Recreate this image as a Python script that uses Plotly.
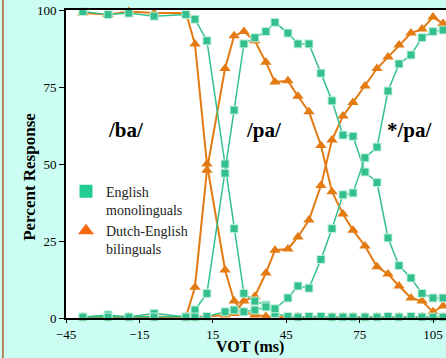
import plotly.graph_objects as go

vot = [-38.1, -27.8, -19.3, -9.0, 4.0, 7.7, 12.6, 20.0, 23.7, 27.7, 32.2, 36.7, 40.4, 45.7,
       49.8, 54.3, 59.2, 63.7, 68.2, 72.3, 77.2, 82.1, 86.6, 91.1, 96.0, 100.5, 105.0, 109.1]

eng_ba = [99.5, 98.5, 99, 98, 98.5, 97, 90, 50, 29, 8, 5.5, 4.2, 1.5, 0.5,
          0.3, 0.5, 0.5, 0.3, 0.3, 0.3, 0.3, 0.3, 0.5, 0.3, 0.5, 0.3, 0.3, 0.3]
eng_pa = [0.3, 1, 0.3, 1.5, 0.3, 2.6, 8, 47, 67.5, 89, 91, 93, 96, 92.5,
          89, 89, 79.5, 70.5, 59.4, 59, 47.4, 44, 26, 17, 13, 8, 6.5, 6.5]
eng_xpa = [0.3, 0.3, 0.3, 0.3, 0.3, 0.3, 0.5, 2, 2.6, 2, 2.6, 3.6, 3, 6.5,
           10.4, 9.7, 19, 29, 40, 40.6, 52, 55.5, 73.7, 82.5, 85.4, 91, 93, 93.5]

dut_ba = [99, 98.5, 99.5, 99, 99, 89, 50, 15.6, 5.5, 2, 1, 0.5, 0.3, 0.3,
          0.3, 0.3, 0.3, 0.3, 0.3, 0.3, 0.3, 0.3, 0.3, 0.3, 0.3, 0.3, 0.3, 0.3]
dut_pa = [0.3, 0.3, 0.3, 0.5, 0.3, 10, 48, 81, 91.6, 93, 90, 83, 76.6, 77,
          72, 67, 56, 41, 33.8, 28.5, 23.4, 16.6, 14.3, 10.4, 6.5, 5.5, 2, 3.9]
dut_xpa = [0.3, 0.3, 0.3, 0.3, 0.3, 0.3, 0.5, 1, 1.5, 5.5, 7.1, 14.6, 22, 22.4,
           26.3, 31.8, 43, 57.8, 65.6, 70, 75.3, 81, 84.7, 88.6, 92.5, 93.8, 97.7, 95.6]

x_ticks = [-45, -15, 15, 45, 75, 105]
y_ticks = [0, 25, 50, 75, 100]
labels = ["/ba/", "/pa/", "*/pa/"]
label_x = [-20.5, 35.9, 95.6]
label_y = [61, 61, 61]

TEAL = "#34c08e"
ORANGE = "#e47a12"
SERIF = "Liberation Serif"

fig = go.Figure()
for ys in [dut_ba, dut_pa, dut_xpa]:
    fig.add_trace(go.Scatter(x=vot, y=ys, mode="lines+markers", showlegend=False,
                             cliponaxis=False,
                             line=dict(color=ORANGE, width=2),
                             marker=dict(symbol="triangle-up", size=10, color=ORANGE)))
for ys in [eng_ba, eng_pa, eng_xpa]:
    fig.add_trace(go.Scatter(x=vot, y=ys, mode="lines+markers", showlegend=False,
                             cliponaxis=False,
                             line=dict(color=TEAL, width=1.5),
                             marker=dict(symbol="square", size=8, color=TEAL,
                                         line=dict(color="#c4f2dc", width=1))))

fig.add_trace(go.Scatter(x=[None], y=[None], mode="markers", name="English<br>monolinguals",
                         marker=dict(symbol="square", size=13, color="#22cc92")))
fig.add_trace(go.Scatter(x=[None], y=[None], mode="markers", name="Dutch-English<br>bilinguals",
                         marker=dict(symbol="triangle-up", size=14, color="#f56a10")))

for t, xv, yv in zip(labels, label_x, label_y):
    fig.add_annotation(x=xv, y=yv, text="<b>" + t + "</b>", showarrow=False,
                       font=dict(family=SERIF, size=21, color="black"))

fig.add_annotation(xref="paper", yref="paper", x=0.484, y=-0.094, text="<b>VOT (ms)</b>",
                   xanchor="center", yanchor="middle",
                   showarrow=False, font=dict(family=SERIF, size=16, color="black"))
fig.add_annotation(xref="paper", yref="paper", x=-0.095, y=0.458, text="<b>Percent Response</b>",
                   xanchor="center", yanchor="middle",
                   showarrow=False, textangle=-90, font=dict(family=SERIF, size=17, color="black"))

fig.add_shape(type="line", xref="paper", yref="paper", x0=-0.166, x1=-0.166, y0=-0.2, y1=1.1,
              line=dict(color="#b8602a", width=1.5))

fig.update_layout(
    width=446, height=358,
    margin=dict(l=66, r=0, t=10, b=40, autoexpand=False),
    paper_bgcolor="#ccfdf2",
    plot_bgcolor="white",
    font=dict(family=SERIF, size=13, color="black"),
    legend=dict(x=0.0, y=0.462, xanchor="left", yanchor="top", bgcolor="rgba(0,0,0,0)",
                font=dict(family=SERIF, size=14, color="#222"), tracegroupgap=6,
                itemwidth=30, valign="top"),
    xaxis=dict(range=[-45, 110.3], tickvals=x_ticks, showgrid=False, zeroline=False,
               showline=True, linecolor="black", linewidth=2, mirror=True, automargin=False,
               ticks="outside", ticklen=3, tickcolor="black",
               tickfont=dict(family=SERIF, size=13)),
    yaxis=dict(range=[0, 100], tickvals=y_ticks, showgrid=False, zeroline=False,
               showline=True, linecolor="black", linewidth=2, automargin=False,
               ticks="outside", ticklen=5, tickcolor="black",
               tickfont=dict(family=SERIF, size=13)),
)

fig.write_html("out.html", config={"displayModeBar": False},
               post_script="document.body.style.margin='0';document.body.style.padding='0';")
